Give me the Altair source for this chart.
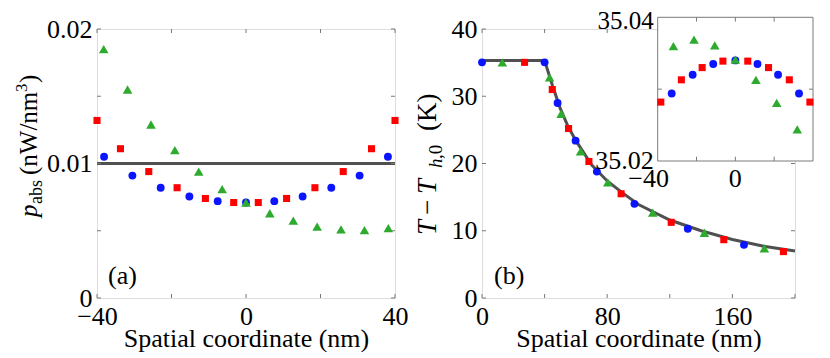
import altair as alt
import pandas as pd

# ---------------- data ----------------
# panel (a): absorbed power density
a_blue_x = [-38.1, -30.5, -22.9, -15.2, -7.6, 0, 7.6, 15.2, 22.9, 30.5, 38.1]
a_blue_y = [0.0105, 0.0091, 0.0082, 0.00755, 0.0072, 0.0071, 0.0072, 0.00755, 0.0082, 0.0091, 0.0105]
a_red_x = [-40, -33.7, -26.1, -18.5, -10.9, -3.3, 3.3, 10.9, 18.5, 26.1, 33.7, 40]
a_red_y = [0.0132, 0.0111, 0.0094, 0.0082, 0.0074, 0.0071, 0.0071, 0.0074, 0.0082, 0.0094, 0.0111, 0.0132]
a_green_x = [-38.2, -31.8, -25.5, -19.1, -12.7, -6.4, 0, 6.4, 12.7, 19.1, 25.5, 31.8, 38.2]
a_green_y = [0.0185, 0.0155, 0.0129, 0.0110, 0.0094, 0.0081, 0.0071, 0.0063, 0.00575, 0.0053, 0.0051, 0.00505, 0.0052]
a_line_x = [-40, 40]
a_line_y = [0.01, 0.01]

# panel (b): temperature rise
b_line_x = [0, 40, 45, 50, 55, 60, 70, 80, 90, 100, 120, 140, 160, 180, 200]
b_line_y = [35.3, 35.3, 31.6, 28.2, 25.5, 23.4, 19.8, 17.4, 15.6, 13.9, 11.6, 10.0, 8.7, 7.7, 7.0]
b_blue_x = [0, 40, 48.3, 59.8, 73.4, 97.4, 131.5, 167.4]
b_blue_y = [35.04, 35.04, 29.0, 23.4, 18.8, 14.0, 10.3, 7.9]
b_red_x = [27.2, 44.9, 55.3, 68.3, 88.9, 120.9, 154.5, 192.6]
b_red_y = [35.04, 31.0, 25.2, 20.3, 15.5, 11.25, 8.67, 6.9]
b_green_x = [13.0, 43.2, 50.6, 63.0, 80.4, 109.1, 142.1, 180.4]
b_green_y = [35.04, 32.8, 27.4, 21.8, 17.2, 12.7, 9.7, 7.4]

# inset of panel (b)
i_blue_x = [-32.8, -22.0, -11.4, 0, 11.4, 22.0, 32.8]
i_blue_y = [35.0294, 35.0320, 35.0335, 35.0340, 35.0335, 35.0320, 35.0294]
i_red_x = [-38.4, -27.8, -17.1, -6.4, 6.4, 17.1, 27.8, 38.4]
i_red_y = [35.0282, 35.0313, 35.0330, 35.0339, 35.0339, 35.0330, 35.0313, 35.0282]
i_green_x = [-31.9, -21.3, -10.6, 0, 10.6, 21.3, 31.9]
i_green_y = [35.0360, 35.0369, 35.0361, 35.0341, 35.0313, 35.0281, 35.0244]

# axes
a_xdomain, a_ydomain = [-40, 40], [0, 0.02]
a_xticks = [-40, -20, 0, 20, 40]
a_xlabels = [-40, 0, 40]
a_yticks = [0, 0.005, 0.01, 0.015, 0.02]
a_ylabels = [0, 0.01, 0.02]
b_xdomain, b_ydomain = [0, 200], [0, 40]
b_xticks = [0, 40, 80, 120, 160, 200]
b_xlabels = [0, 80, 160]
b_yticks = [0, 10, 20, 30, 40]
b_ylabels = [0, 10, 20, 30, 40]
i_xdomain, i_ydomain = [-40, 40], [35.02, 35.04]
i_xticks = [-20, 0, 20]
i_xlabels = [-40, 0]
i_yticks = [35.03]
i_ylabels_low = [35.02]
i_ylabels_high = [35.04]

xtitle = "Spatial coordinate (nm)"

# ---------------- style ----------------
FONT = "Liberation Serif, Tinos, Times New Roman, Times, Nimbus Roman, DejaVu Serif, serif"
FS = 26
GRAY = "#7a7a7a"
LINEC = "#505050"
RED, BLUE, GREEN = "#ff0000", "#0a14ff", "#2eaa2e"
WA, WB, H = 298, 313, 269
TL = 4


def axis_x(labels, fmt):
    return alt.Axis(values=labels, format=fmt, title=xtitle, ticks=False, tickSize=0,
                    domain=False, grid=False, labelFont=FONT, labelFontSize=FS,
                    labelColor="black", labelPadding=5, labelFlush=False, labelOverlap=False,
                    titleFont=FONT, titleFontSize=FS, titleFontWeight="normal",
                    titleColor="black", titleBaseline="alphabetic", titleY=48)


def axis_y(labels, fmt):
    return alt.Axis(values=labels, format=fmt, title="", ticks=False, tickSize=0,
                    domain=False, grid=False, labelFont=FONT, labelFontSize=FS,
                    labelColor="black", labelPadding=5, labelFlush=False, labelOverlap=False)


def pts(xs, ys, shape, color, size, X, Y):
    return alt.Chart(pd.DataFrame({"x": xs, "y": ys})).mark_point(
        shape=shape, filled=True, color=color, size=size, opacity=1, strokeWidth=0
    ).encode(x=X, y=Y)


def series(xr, yr, xg, yg, xb, yb, X, Y):
    return [
        pts(xr, yr, "square", RED, 50, X, Y),
        pts(xb, yb, "circle", BLUE, 62, X, Y),
        pts(xg, yg, "triangle-up", GREEN, 92, X, Y),
    ]


def box_ticks(xt, yt, X, Y, w, h):
    dx = pd.DataFrame({"x": xt})
    dy = pd.DataFrame({"y": yt})
    r = dict(color=GRAY, strokeWidth=1)
    return [
        alt.Chart(dx).mark_rule(**r).encode(x=X, y=alt.value(0), y2=alt.value(TL)),
        alt.Chart(dx).mark_rule(**r).encode(x=X, y=alt.value(h), y2=alt.value(h - TL)),
        alt.Chart(dy).mark_rule(**r).encode(y=Y, x=alt.value(0), x2=alt.value(TL)),
        alt.Chart(dy).mark_rule(**r).encode(y=Y, x=alt.value(w - TL), x2=alt.value(w)),
    ]


def txt(s, x, y, size=FS, italic=False, angle=0, align="left", baseline="alphabetic"):
    kw = dict(font=FONT, fontSize=size, align=align, baseline=baseline, color="black")
    if italic:
        kw["fontStyle"] = "italic"
    if angle:
        kw["angle"] = angle
    return alt.Chart(pd.DataFrame({"t": [s]})).mark_text(**kw).encode(
        x=alt.value(x), y=alt.value(y), text="t:N")


# ---------------- panel (a) ----------------
XA = alt.X("x:Q", scale=alt.Scale(domain=a_xdomain, nice=False, zero=False), axis=axis_x(a_xlabels, "d"))
YA = alt.Y("y:Q", scale=alt.Scale(domain=a_ydomain, nice=False), axis=axis_y(a_ylabels, "~g"))

line_a = alt.Chart(pd.DataFrame({"x": a_line_x, "y": a_line_y})).mark_line(
    color=LINEC, strokeWidth=3).encode(x=XA, y=YA)

pin = alt.Chart(pd.DataFrame({"p": [0]})).mark_rule(color="white", strokeOpacity=0).encode(
    x=alt.value(-88), x2=alt.value(-88), y=alt.value(-19), y2=alt.value(-18))

ya_base = -60
ytitle_a = [
    txt("p", ya_base, 188, 25, italic=True, angle=270),
    txt("abs", ya_base + 5, 175, 18, angle=270),
    txt("(nW/nm", ya_base, 146, 25, angle=270),
    txt("3", ya_base - 10, 63, 17, angle=270),
    txt(")", ya_base, 54, 25, angle=270),
]

panel_a = alt.layer(
    line_a, *box_ticks(a_xticks, a_yticks, XA, YA, WA, H),
    *series(a_red_x, a_red_y, a_green_x, a_green_y, a_blue_x, a_blue_y, XA, YA),
    txt("(a)", 11, 255), *ytitle_a, pin,
).properties(width=WA, height=H)

# ---------------- panel (b) ----------------
# main scales (identical for every main layer); only the line layer carries the axes
SXB = alt.Scale(domain=b_xdomain, nice=False, zero=False)
SYB = alt.Scale(domain=b_ydomain, nice=False)
XB_ax = alt.X("x:Q", scale=SXB, axis=axis_x(b_xlabels, "d"))
YB_ax = alt.Y("y:Q", scale=SYB, axis=axis_y(b_ylabels, "d"))
XB = alt.X("x:Q", scale=SXB, axis=None)
YB = alt.Y("y:Q", scale=SYB, axis=None)

line_b = alt.Chart(pd.DataFrame({"x": b_line_x, "y": b_line_y})).mark_line(
    color=LINEC, strokeWidth=3).encode(x=XB_ax, y=YB_ax)

yb_base = -46
ytitle_b = [
    txt("T", yb_base, 206, 27, italic=True, angle=270),
    txt("\u2212", yb_base, 186, 27, angle=270),
    txt("T", yb_base, 165, 27, italic=True, angle=270),
    txt("h", yb_base + 6, 139, 19, italic=True, angle=270),
    txt(",0", yb_base + 6, 130, 19, angle=270),
    txt("(K)", yb_base, 102, 27, angle=270),
]

# inset scales
XI = alt.X("x:Q", scale=alt.Scale(domain=i_xdomain, range=[175.7, 331], nice=False, zero=False), axis=None)
YI = alt.Y("y:Q", scale=alt.Scale(domain=i_ydomain, range=[132, -11.7], nice=False, zero=False), axis=None)

frame = alt.Chart(pd.DataFrame({"x": [i_xdomain[0]], "x2": [i_xdomain[1]],
                                "y": [i_ydomain[0]], "y2": [i_ydomain[1]]})).mark_rect(
    fill="white", stroke=GRAY, strokeWidth=1).encode(x=XI, x2="x2:Q", y=YI, y2="y2:Q")

rr = dict(color=GRAY, strokeWidth=1)
inset_ticks = [
    alt.Chart(pd.DataFrame({"x": i_xticks, "y": [i_ydomain[1]] * 3, "y2": [35.0394] * 3})).mark_rule(**rr).encode(
        x=XI, y=YI, y2="y2:Q"),
    alt.Chart(pd.DataFrame({"x": i_xticks, "y": [i_ydomain[0]] * 3, "y2": [35.0206] * 3})).mark_rule(**rr).encode(
        x=XI, y=YI, y2="y2:Q"),
    alt.Chart(pd.DataFrame({"y": i_yticks, "x": [i_xdomain[0]], "x2": [-37.9]})).mark_rule(**rr).encode(
        y=YI, x=XI, x2="x2:Q"),
    alt.Chart(pd.DataFrame({"y": i_yticks, "x": [37.9], "x2": [i_xdomain[1]]})).mark_rule(**rr).encode(
        y=YI, x=XI, x2="x2:Q"),
]

lab = dict(font=FONT, fontSize=FS, color="black")
inset_labels = [
    alt.Chart(pd.DataFrame({"x": i_xlabels[:1], "y": [i_ydomain[0]]})).mark_text(
        align="center", baseline="top", dy=5, dx=-9, **lab).encode(
        x=XI, y=YI, text=alt.Text("x:Q", format="d")),
    alt.Chart(pd.DataFrame({"x": i_xlabels[1:], "y": [i_ydomain[0]]})).mark_text(
        align="center", baseline="top", dy=5, **lab).encode(
        x=XI, y=YI, text=alt.Text("x:Q", format="d")),
    alt.Chart(pd.DataFrame({"y": i_ylabels_low, "x": [i_xdomain[0]]})).mark_text(
        align="right", baseline="middle", dx=-4, **lab).encode(
        y=YI, x=XI, text=alt.Text("y:Q", format=".2f")),
    alt.Chart(pd.DataFrame({"y": i_ylabels_high, "x": [i_xdomain[0]]})).mark_text(
        align="right", baseline="alphabetic", dx=-4, dy=12, font=FONT, fontSize=25, color="black").encode(
        y=YI, x=XI, text=alt.Text("y:Q", format=".2f")),
]

panel_b = alt.layer(
    line_b, *box_ticks(b_xticks, b_yticks, XB, YB, WB, H),
    *series(b_red_x, b_red_y, b_green_x, b_green_y, b_blue_x, b_blue_y, XB, YB),
    txt("(b)", 12, 255), *ytitle_b,
    frame, *inset_ticks,
    *series(i_red_x, i_red_y, i_green_x, i_green_y, i_blue_x, i_blue_y, XI, YI),
    *inset_labels,
).resolve_scale(x="independent", y="independent").properties(width=WB, height=H)

chart = alt.hconcat(panel_a, panel_b, spacing=87, bounds="flush").properties(
    padding={"left": 0, "top": 0, "right": 0, "bottom": 0}
).configure_view(stroke=GRAY, strokeWidth=1).configure(background="white")

chart.save("out.html", embed_options={"renderer": "svg", "actions": False})
